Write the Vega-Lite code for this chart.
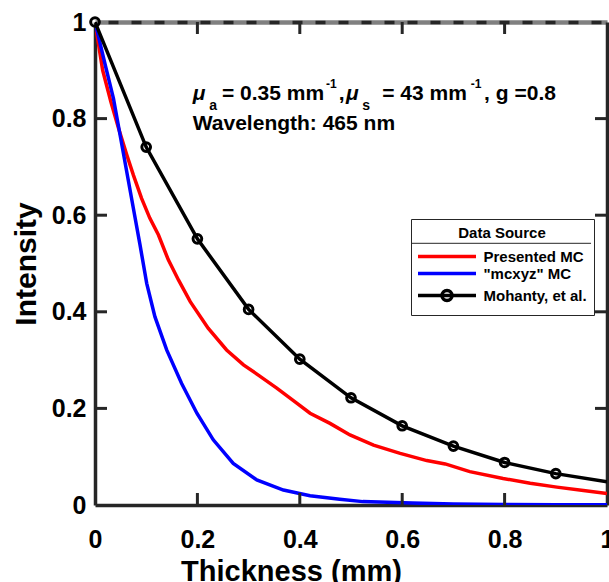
{
  "$schema": "https://vega.github.io/schema/vega-lite/v6.json",
  "width": 512,
  "height": 483,
  "autosize": {"type": "none"},
  "padding": {"left": 95, "top": 22, "right": 2, "bottom": 77},
  "background": "white",
  "config": {
    "view": {"stroke": null, "fill": null},
    "font": "Liberation Sans",
    "axis": {
      "grid": false,
      "zindex": 1,
      "domainColor": "#262626",
      "domainWidth": 3.5,
      "ticks": false,
      "labelFont": "Liberation Sans",
      "labelFontSize": 25,
      "labelFontWeight": "bold",
      "labelColor": "#000000",
      "labelFlush": false,
      "labelOverlap": false,
      "titleFont": "Liberation Sans",
      "titleFontWeight": "bold",
      "titleColor": "#000000"
    },
    "legend": {
      "orient": "none",
      "legendX": 316,
      "legendY": 197,
      "padding": 7,
      "strokeColor": "#262626",
      "fillColor": null,
      "titleFont": "Liberation Sans",
      "titleFontSize": 15,
      "titleFontWeight": "bold",
      "titleColor": "#000000",
      "titleAnchor": "middle",
      "titlePadding": 8,
      "labelFont": "Liberation Sans",
      "labelFontSize": 15,
      "labelFontWeight": "bold",
      "labelColor": "#000000",
      "symbolSize": 100,
      "symbolStrokeWidth": 3.5,
      "symbolOffset": 21.5,
      "labelOffset": 29,
      "rowPadding": 1
    }
  },
  "datasets": {
    "curves": [
      {"series": "Presented MC", "thickness": 0.0, "intensity": 1.0},
      {"series": "Presented MC", "thickness": 0.015, "intensity": 0.9},
      {"series": "Presented MC", "thickness": 0.031, "intensity": 0.835},
      {"series": "Presented MC", "thickness": 0.046, "intensity": 0.78},
      {"series": "Presented MC", "thickness": 0.062, "intensity": 0.725},
      {"series": "Presented MC", "thickness": 0.075, "intensity": 0.683},
      {"series": "Presented MC", "thickness": 0.091, "intensity": 0.635},
      {"series": "Presented MC", "thickness": 0.107, "intensity": 0.594},
      {"series": "Presented MC", "thickness": 0.124, "intensity": 0.559},
      {"series": "Presented MC", "thickness": 0.143, "intensity": 0.508},
      {"series": "Presented MC", "thickness": 0.163, "intensity": 0.466},
      {"series": "Presented MC", "thickness": 0.186, "intensity": 0.421},
      {"series": "Presented MC", "thickness": 0.221, "intensity": 0.366},
      {"series": "Presented MC", "thickness": 0.257, "intensity": 0.321},
      {"series": "Presented MC", "thickness": 0.29, "intensity": 0.29},
      {"series": "Presented MC", "thickness": 0.319, "intensity": 0.269},
      {"series": "Presented MC", "thickness": 0.355, "intensity": 0.242},
      {"series": "Presented MC", "thickness": 0.394, "intensity": 0.211},
      {"series": "Presented MC", "thickness": 0.42, "intensity": 0.19},
      {"series": "Presented MC", "thickness": 0.459, "intensity": 0.169},
      {"series": "Presented MC", "thickness": 0.498, "intensity": 0.145},
      {"series": "Presented MC", "thickness": 0.544, "intensity": 0.124},
      {"series": "Presented MC", "thickness": 0.596, "intensity": 0.107},
      {"series": "Presented MC", "thickness": 0.648, "intensity": 0.092},
      {"series": "Presented MC", "thickness": 0.684, "intensity": 0.085},
      {"series": "Presented MC", "thickness": 0.732, "intensity": 0.069},
      {"series": "Presented MC", "thickness": 0.797, "intensity": 0.055},
      {"series": "Presented MC", "thickness": 0.85, "intensity": 0.045},
      {"series": "Presented MC", "thickness": 0.902, "intensity": 0.037},
      {"series": "Presented MC", "thickness": 0.954, "intensity": 0.03},
      {"series": "Presented MC", "thickness": 1.0, "intensity": 0.024},
      {"series": "\"mcxyz\" MC", "thickness": 0.0, "intensity": 1.0},
      {"series": "\"mcxyz\" MC", "thickness": 0.02, "intensity": 0.911},
      {"series": "\"mcxyz\" MC", "thickness": 0.036, "intensity": 0.842},
      {"series": "\"mcxyz\" MC", "thickness": 0.049, "intensity": 0.766},
      {"series": "\"mcxyz\" MC", "thickness": 0.062, "intensity": 0.69},
      {"series": "\"mcxyz\" MC", "thickness": 0.075, "intensity": 0.614},
      {"series": "\"mcxyz\" MC", "thickness": 0.088, "intensity": 0.538},
      {"series": "\"mcxyz\" MC", "thickness": 0.101, "intensity": 0.459},
      {"series": "\"mcxyz\" MC", "thickness": 0.117, "intensity": 0.39},
      {"series": "\"mcxyz\" MC", "thickness": 0.14, "intensity": 0.321},
      {"series": "\"mcxyz\" MC", "thickness": 0.169, "intensity": 0.252},
      {"series": "\"mcxyz\" MC", "thickness": 0.199, "intensity": 0.19},
      {"series": "\"mcxyz\" MC", "thickness": 0.231, "intensity": 0.135},
      {"series": "\"mcxyz\" MC", "thickness": 0.27, "intensity": 0.086},
      {"series": "\"mcxyz\" MC", "thickness": 0.316, "intensity": 0.052},
      {"series": "\"mcxyz\" MC", "thickness": 0.368, "intensity": 0.031},
      {"series": "\"mcxyz\" MC", "thickness": 0.42, "intensity": 0.019},
      {"series": "\"mcxyz\" MC", "thickness": 0.478, "intensity": 0.012},
      {"series": "\"mcxyz\" MC", "thickness": 0.523, "intensity": 0.007},
      {"series": "\"mcxyz\" MC", "thickness": 0.62, "intensity": 0.004},
      {"series": "\"mcxyz\" MC", "thickness": 0.7, "intensity": 0.002},
      {"series": "\"mcxyz\" MC", "thickness": 0.8, "intensity": 0.001},
      {"series": "\"mcxyz\" MC", "thickness": 0.9, "intensity": 0.0007},
      {"series": "\"mcxyz\" MC", "thickness": 1.0, "intensity": 0.0005},
      {"series": "Mohanty, et al.", "thickness": 0.0, "intensity": 1.0},
      {"series": "Mohanty, et al.", "thickness": 0.1, "intensity": 0.741},
      {"series": "Mohanty, et al.", "thickness": 0.2, "intensity": 0.551},
      {"series": "Mohanty, et al.", "thickness": 0.3, "intensity": 0.405},
      {"series": "Mohanty, et al.", "thickness": 0.4, "intensity": 0.302},
      {"series": "Mohanty, et al.", "thickness": 0.5, "intensity": 0.222},
      {"series": "Mohanty, et al.", "thickness": 0.6, "intensity": 0.164},
      {"series": "Mohanty, et al.", "thickness": 0.7, "intensity": 0.122},
      {"series": "Mohanty, et al.", "thickness": 0.8, "intensity": 0.088},
      {"series": "Mohanty, et al.", "thickness": 0.9, "intensity": 0.065},
      {"series": "Mohanty, et al.", "thickness": 1.0, "intensity": 0.048}
    ],
    "tickPositions": [{"v": 0.2}, {"v": 0.4}, {"v": 0.6}, {"v": 0.8}],
    "noteMain": [
      {"x": 0.248, "y": 0.8375, "text": "= 0.35 mm"},
      {"x": 0.476, "y": 0.8375, "text": ","},
      {"x": 0.561, "y": 0.8375, "text": "= 43 mm"},
      {"x": 0.76, "y": 0.8375, "text": ", g =0.8"},
      {"x": 0.191, "y": 0.7764, "text": "Wavelength: 465 nm"}
    ],
    "noteGreek": [
      {"x": 0.191, "y": 0.8375, "text": "μ"},
      {"x": 0.49, "y": 0.8375, "text": "μ"}
    ],
    "noteSub": [
      {"x": 0.223, "y": 0.8178, "text": "a"},
      {"x": 0.522, "y": 0.8178, "text": "s"}
    ],
    "noteSup": [
      {"x": 0.451, "y": 0.8627, "text": "-1"},
      {"x": 0.734, "y": 0.8627, "text": "-1"}
    ],
    "legendDivider": [{"x": 0.6172, "x2": 0.9688, "y": 0.5418}]
  },
  "resolve": {"axis": {"x": "independent", "y": "independent"}},
  "layer": [
    {
      "data": {"name": "curves"},
      "mark": {"type": "line", "strokeWidth": 3.5, "clip": true},
      "encoding": {
        "x": {
          "field": "thickness", "type": "quantitative",
          "scale": {"domain": [0, 1], "nice": false, "zero": false},
          "axis": {
            "orient": "bottom", "title": "Thickness (mm)", "values": [0, 0.2, 0.4, 0.6, 0.8, 1], "format": "~g",
            "labelPadding": 22, "titleFontSize": 29, "titleX": 196, "titleY": 75, "titleBaseline": "alphabetic", "titleAlign": "center", "titleAnchor": null
          }
        },
        "y": {
          "field": "intensity", "type": "quantitative",
          "scale": {"domain": [0, 1], "nice": false, "zero": false},
          "axis": {
            "orient": "left", "title": "Intensity", "values": [0, 0.2, 0.4, 0.6, 0.8, 1], "format": "~g",
            "labelPadding": 9, "titleFontSize": 30, "titleX": -60, "titleY": 241.5, "titleAngle": 270, "titleBaseline": "alphabetic", "titleAlign": "center", "titleAnchor": null
          }
        },
        "color": {
          "field": "series", "type": "nominal",
          "scale": {"domain": ["Presented MC", "\"mcxyz\" MC", "Mohanty, et al."], "range": ["#ff0000", "#0000ff", "#000000"]},
          "legend": {
            "title": "Data Source",
            "encode": {
              "symbols": {
                "update": {
                  "shape": {"signal": "datum.value === 'Mohanty, et al.' ? 'M-5.8,0H5.8M-1,0A1,1 0 1,1 1,0A1,1 0 1,1 -1,0' : 'M-5.8,0H5.8'"},
                  "fill": {"value": "transparent"}
                }
              }
            }
          }
        }
      }
    },
    {
      "data": {"name": "curves"},
      "transform": [
        {"filter": "datum.series === 'Mohanty, et al.'"},
        {"filter": "datum.thickness < 0.95"}
      ],
      "mark": {"type": "point", "shape": "circle", "filled": false, "size": 75, "strokeWidth": 3, "color": "#000000", "opacity": 1},
      "encoding": {
        "x": {
          "field": "thickness", "type": "quantitative",
          "axis": {"orient": "top", "title": null, "labels": false, "domainColor": "#808080", "domainWidth": 4.5}
        },
        "y": {
          "field": "intensity", "type": "quantitative",
          "axis": {"orient": "right", "title": null, "labels": false}
        }
      }
    },
    {
      "data": {"name": "tickPositions"},
      "mark": {"type": "rule", "color": "#262626", "strokeWidth": 3},
      "encoding": {
        "x": {"field": "v", "type": "quantitative", "axis": null},
        "y": {"datum": 0, "type": "quantitative", "axis": null},
        "y2": {"datum": 0.0248}
      }
    },
    {
      "data": {"name": "tickPositions"},
      "mark": {"type": "rule", "color": "#262626", "strokeWidth": 3},
      "encoding": {
        "x": {"field": "v", "type": "quantitative", "axis": null},
        "y": {"datum": 1, "type": "quantitative", "axis": null},
        "y2": {"datum": 0.9752}
      }
    },
    {
      "data": {"name": "tickPositions"},
      "mark": {"type": "rule", "color": "#262626", "strokeWidth": 3},
      "encoding": {
        "y": {"field": "v", "type": "quantitative", "axis": null},
        "x": {"datum": 0, "type": "quantitative", "axis": null},
        "x2": {"datum": 0.0234}
      }
    },
    {
      "data": {"name": "tickPositions"},
      "mark": {"type": "rule", "color": "#262626", "strokeWidth": 3},
      "encoding": {
        "y": {"field": "v", "type": "quantitative", "axis": null},
        "x": {"datum": 1, "type": "quantitative", "axis": null},
        "x2": {"datum": 0.9766}
      }
    },
    {
      "data": {"name": "legendDivider"},
      "mark": {"type": "rule", "color": "#262626", "strokeWidth": 1},
      "encoding": {
        "x": {"field": "x", "type": "quantitative", "axis": null},
        "x2": {"field": "x2"},
        "y": {"field": "y", "type": "quantitative", "axis": null}
      }
    },
    {
      "data": {"name": "noteMain"},
      "mark": {"type": "text", "align": "left", "baseline": "alphabetic", "font": "Liberation Sans", "fontSize": 21, "fontWeight": "bold", "color": "#000000"},
      "encoding": {
        "x": {
          "field": "x", "type": "quantitative",
          "axis": {
            "orient": "top", "title": null, "labels": false, "zindex": 2,
            "domainColor": "#262626", "domainWidth": 3.5, "domainDash": [10, 13], "domainDashOffset": 10
          }
        },
        "y": {"field": "y", "type": "quantitative", "axis": null},
        "text": {"field": "text"}
      }
    },
    {
      "data": {"name": "noteGreek"},
      "mark": {"type": "text", "align": "left", "baseline": "alphabetic", "font": "Liberation Sans", "fontSize": 21, "fontWeight": "bold", "fontStyle": "italic", "color": "#000000"},
      "encoding": {
        "x": {"field": "x", "type": "quantitative", "axis": null},
        "y": {"field": "y", "type": "quantitative", "axis": null},
        "text": {"field": "text"}
      }
    },
    {
      "data": {"name": "noteSub"},
      "mark": {"type": "text", "align": "left", "baseline": "alphabetic", "font": "Liberation Sans", "fontSize": 14, "fontWeight": "bold", "color": "#000000"},
      "encoding": {
        "x": {"field": "x", "type": "quantitative", "axis": null},
        "y": {"field": "y", "type": "quantitative", "axis": null},
        "text": {"field": "text"}
      }
    },
    {
      "data": {"name": "noteSup"},
      "mark": {"type": "text", "align": "left", "baseline": "alphabetic", "font": "Liberation Sans", "fontSize": 12, "fontWeight": "bold", "color": "#000000"},
      "encoding": {
        "x": {"field": "x", "type": "quantitative", "axis": null},
        "y": {"field": "y", "type": "quantitative", "axis": null},
        "text": {"field": "text"}
      }
    }
  ]
}
